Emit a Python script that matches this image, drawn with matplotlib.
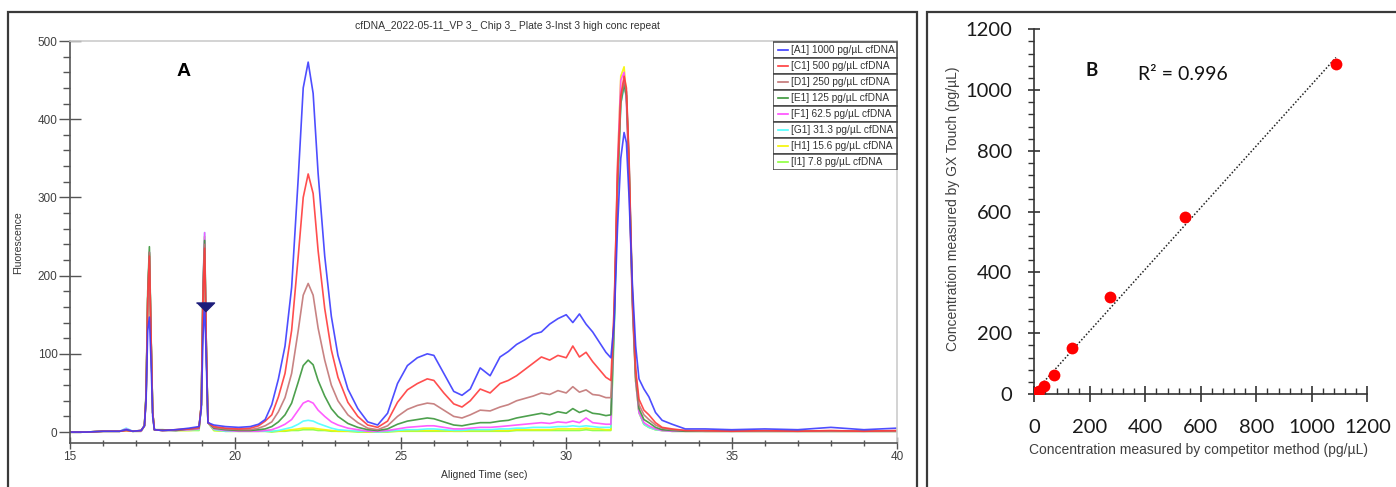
import numpy as np
import matplotlib
matplotlib.use("Agg")
import matplotlib.pyplot as plt
from matplotlib.patches import Rectangle
from matplotlib.ticker import MultipleLocator

W, H = 1396, 487

# ---- panel A: electropherogram traces ----
time_s = [15.0, 15.5, 16.0, 16.5, 16.7, 16.9, 17.15,
          17.25, 17.3, 17.35, 17.4, 17.45, 17.5, 17.55,
          17.8, 18.2, 18.6, 18.9,
          18.97, 19.02, 19.07, 19.12, 19.17,
          19.35, 19.7, 20.1, 20.45, 20.7, 20.9,
          21.1, 21.3, 21.5, 21.7, 21.9, 22.05, 22.2, 22.35, 22.5, 22.7, 22.9, 23.1, 23.4, 23.7, 24.0, 24.3,
          24.6, 24.9, 25.2, 25.5, 25.8, 26.0, 26.3, 26.6, 26.85, 27.1, 27.4, 27.7, 28.0, 28.25,
          28.5, 28.75, 29.0, 29.25, 29.5, 29.75, 30.0, 30.2, 30.4, 30.6, 30.8, 31.0, 31.2, 31.35,
          31.45, 31.55, 31.65, 31.75, 31.82, 31.9, 32.0, 32.1, 32.2,
          32.35, 32.5, 32.7, 32.9, 33.2, 33.6, 34.2, 35.0, 36.0, 37.0, 38.0, 39.0, 40.0]

a1 = [0, 0, 1, 1, 3, 1, 2,
      8, 40, 130, 147, 90, 20, 3,
      2, 3, 5, 7,
      30, 120, 165, 90, 12,
      9, 7, 6, 7, 10, 16,
      35, 68, 110, 185, 325, 440, 473, 433, 331, 225, 148, 98, 55, 30, 13, 9,
      24, 62, 85, 95, 100, 98, 75, 52, 47, 55, 82, 72, 96, 103,
      112, 118, 125, 128, 138, 145, 150, 140, 151, 138, 128, 115, 102, 95,
      140, 260, 350, 383, 370, 300, 190, 110, 68,
      55, 45, 25, 15, 10, 4, 4, 3, 4, 3, 6, 3, 5]
c1 = [0, 0, 1, 1, 2, 1, 2,
      8, 45, 170, 225, 120, 25, 3,
      2, 3, 4, 6,
      35, 170, 235, 110, 12,
      7, 5, 4, 5, 8, 14,
      22, 45, 75, 130, 225, 300, 330, 305, 232, 158, 105, 70, 38, 20, 9, 6,
      14, 38, 54, 62, 68, 66, 50, 36, 32, 40, 55, 50, 62, 66,
      72, 80, 88, 96, 92, 98, 95, 110, 96, 102, 90, 80, 70, 66,
      160, 330, 430, 455, 440, 350, 180, 80, 42,
      28, 22, 12, 6, 4, 2, 2, 1, 2, 1, 2, 1, 2]
d1 = [0, 0, 1, 1, 2, 1, 2,
      8, 45, 170, 230, 120, 25, 3,
      2, 3, 4, 5,
      35, 175, 240, 110, 12,
      6, 4, 3, 3, 5, 8,
      13, 26, 44, 75, 130, 175, 190, 175, 133, 92, 60, 40, 22, 12, 5, 3,
      8, 20, 29, 34, 37, 36, 28, 20, 18, 22, 28, 27, 32, 35,
      40, 43, 46, 50, 48, 53, 50, 58, 51, 54, 48, 47, 44, 44,
      150, 320, 425, 450, 435, 345, 175, 75, 35,
      22, 16, 9, 5, 3, 2, 1, 1, 1, 1, 1, 1, 1]
e1 = [0, 0, 1, 1, 3, 1, 2,
      8, 50, 180, 237, 125, 25, 3,
      3, 2, 4, 5,
      35, 180, 245, 110, 12,
      5, 3, 2, 2, 3, 4,
      7, 13, 22, 37, 64, 85, 92, 86, 66, 46, 30, 20, 11, 6, 3, 2,
      4, 10, 14, 16, 18, 17, 13, 9, 8, 10, 12, 12, 14, 15,
      18, 20, 22, 24, 22, 26, 24, 30, 25, 28, 24, 23, 21, 22,
      140, 310, 420, 445, 430, 340, 170, 70, 30,
      16, 12, 6, 3, 2, 1, 1, 1, 1, 1, 1, 1, 1]
f1 = [0, 0, 1, 1, 4, 1, 1,
      8, 45, 170, 230, 120, 25, 3,
      2, 2, 3, 4,
      35, 185, 255, 110, 12,
      4, 2, 1, 1, 1, 2,
      3, 6, 10, 16, 28, 37, 40, 37, 28, 20, 13, 9, 5, 3, 1, 1,
      2, 4, 6, 7, 8, 8, 6, 4, 4, 5, 6, 6, 7, 8,
      9, 10, 11, 12, 11, 13, 12, 14, 12, 18, 12, 11, 10, 10,
      150, 340, 450, 460, 420, 320, 160, 65, 25,
      12, 8, 4, 2, 1, 1, 1, 1, 1, 1, 1, 1, 1]
g1 = [0, 0, 1, 1, 5, 1, 1,
      8, 45, 170, 230, 120, 25, 3,
      2, 2, 3, 3,
      35, 185, 255, 110, 12,
      3, 1, 1, 1, 1, 1,
      1, 2, 4, 6, 10, 14, 15, 14, 11, 8, 5, 3, 2, 1, 1, 0,
      1, 2, 3, 3, 4, 4, 3, 2, 2, 3, 3, 3, 4, 4,
      5, 5, 6, 6, 6, 7, 7, 8, 7, 8, 7, 6, 6, 6,
      130, 300, 420, 440, 435, 345, 175, 70, 25,
      10, 6, 3, 2, 1, 1, 1, 1, 1, 1, 1, 1, 1]
h1 = [0, 0, 1, 1, 2, 1, 1,
      8, 45, 170, 228, 120, 25, 3,
      2, 2, 2, 3,
      35, 180, 250, 110, 12,
      2, 1, 1, 1, 1, 1,
      1, 1, 2, 3, 4, 5, 5, 5, 4, 3, 2, 1, 1, 1, 0, 0,
      1, 1, 2, 2, 2, 2, 2, 1, 1, 2, 2, 2, 2, 2,
      3, 3, 3, 3, 3, 4, 4, 4, 4, 5, 4, 4, 3, 3,
      145, 340, 455, 467, 430, 330, 165, 65, 25,
      10, 6, 3, 2, 1, 1, 1, 1, 1, 1, 1, 1, 1]
i1 = [0, 0, 1, 1, 2, 1, 1,
      8, 45, 170, 228, 120, 25, 3,
      2, 2, 2, 2,
      35, 180, 250, 110, 12,
      2, 1, 1, 1, 1, 1,
      0, 1, 1, 2, 2, 3, 3, 3, 2, 2, 1, 1, 1, 0, 0, 0,
      0, 1, 1, 1, 1, 1, 1, 1, 1, 1, 1, 1, 1, 1,
      2, 2, 2, 2, 2, 2, 2, 2, 2, 3, 2, 2, 2, 2,
      130, 320, 430, 440, 430, 335, 170, 65, 25,
      10, 6, 3, 2, 1, 1, 1, 1, 1, 1, 1, 1, 1]

trace_labels = ["[A1] 1000 pg/µL cfDNA", "[C1] 500 pg/µL cfDNA", "[D1] 250 pg/µL cfDNA",
                "[E1] 125 pg/µL cfDNA", "[F1] 62.5 pg/µL cfDNA", "[G1] 31.3 pg/µL cfDNA",
                "[H1] 15.6 pg/µL cfDNA", "[I1] 7.8 pg/µL cfDNA"]
traces = [a1, c1, d1, e1, f1, g1, h1, i1]
trace_colors = ["#3b3bff", "#ff3b3b", "#c27676", "#3a963a", "#ff4cff", "#4cffff", "#f5f500", "#8cff3c"]

marker_time, marker_level = 19.07, 160

# ---- panel B: concentration comparison ----
competitor = [8.5, 17, 35, 71, 137, 273, 543, 1087]
gx_touch = [5, 11, 25, 63, 153, 318, 583, 1085]


def fx(p):
    return p / W


def fy(p):
    return 1 - p / H


fig = plt.figure(figsize=(W / 100, H / 100), dpi=100)
fig.patch.set_facecolor("white")

# panel frames
fig.add_artist(Rectangle((fx(8), fy(500)), fx(917 - 8), (500 - 12) / H, transform=fig.transFigure,
                         fill=False, ec="#3a3a3a", lw=1.6))
fig.add_artist(Rectangle((fx(927), fy(500)), fx(600), (500 - 12) / H, transform=fig.transFigure,
                         fill=False, ec="#3a3a3a", lw=1.6))

# ---------------- panel A ----------------
axA = fig.add_axes([fx(70), fy(443), fx(897 - 70), (443 - 41) / H])
for vals, col in reversed(list(zip(traces, trace_colors))):
    axA.plot(time_s, vals, color=col, lw=1.2, alpha=0.9)
axA.plot([marker_time], [marker_level], ls="none", color="#1c1c7a",
         marker=[(-1, 0.5), (1, 0.5), (0, -0.5)], ms=13)
axA.set_xlim(15, 40)
axA.set_ylim(-14, 500)
axA.xaxis.set_major_locator(MultipleLocator(5))
axA.xaxis.set_minor_locator(MultipleLocator(1))
axA.yaxis.set_major_locator(MultipleLocator(100))
axA.yaxis.set_minor_locator(MultipleLocator(20))
axA.tick_params(axis="x", which="major", direction="inout", length=8, width=1, color="#555555",
                labelsize=8.5, labelcolor="#404040", pad=2)
axA.tick_params(axis="x", which="minor", direction="inout", length=5, width=1, color="#555555")
axA.tick_params(axis="y", which="major", direction="inout", length=16, width=1, color="#555555",
                labelsize=8.5, labelcolor="#404040", pad=1)
axA.tick_params(axis="y", which="minor", direction="out", length=5, width=1, color="#555555")
for s in ["left", "bottom"]:
    axA.spines[s].set_color("#555555")
    axA.spines[s].set_linewidth(1.2)
for s in ["top", "right"]:
    axA.spines[s].set_color("#cccccc")
    axA.spines[s].set_linewidth(1.2)
for lab in axA.get_xticklabels() + axA.get_yticklabels():
    lab.set_family("Liberation Sans")

fig.text(fx(507), fy(26), "cfDNA_2022-05-11_VP 3_ Chip 3_ Plate 3-Inst 3 high conc repeat",
         ha="center", va="center", fontsize=7.5, family="Liberation Sans", color="#333333")
fig.text(fx(18), fy(243), "Fluorescence", rotation=90, ha="center", va="center",
         fontsize=7.5, family="Liberation Sans", color="#333333")
fig.text(fx(484), fy(475), "Aligned Time (sec)", ha="center", va="center",
         fontsize=7.5, family="Liberation Sans", color="#333333")
fig.text(fx(184), fy(72), "A", ha="center", va="center", fontsize=14, fontweight="bold",
         family="Liberation Sans", color="black")

# legend drawn as a boxed table
axL = fig.add_axes([fx(773), fy(170), fx(125), 129 / H])
axL.set_xlim(0, 125)
axL.set_ylim(129, 0)
axL.axis("off")
row_h = 16
for k, (lab, col) in enumerate(zip(trace_labels, trace_colors)):
    y0 = 0.5 + k * row_h
    axL.add_patch(Rectangle((0.5, y0), 124, row_h, fill=True, fc="white", ec="#444444", lw=1.1))
    axL.plot([5, 15], [y0 + row_h / 2, y0 + row_h / 2], color=col, lw=1.2)
    axL.text(18.5, y0 + row_h / 2 + 0.3, lab, ha="left", va="center", fontsize=7.3,
             family="Liberation Sans", color="#333333")

# ---------------- panel B ----------------
axB = fig.add_axes([fx(1034.3), fy(394), fx(1367.3 - 1034.3), (394 - 29.3) / H])
slope, intercept = np.polyfit(competitor, gx_touch, 1)
xfit = np.array([0, max(competitor)])
axB.plot(xfit, slope * xfit + intercept, color="#222222", lw=1.1, ls=(0, (1, 1.3)), zorder=2)
axB.plot(competitor, gx_touch, "o", color="#ff0000", ms=8.5, mec="none", zorder=3)
axB.set_xlim(0, 1200)
axB.set_ylim(0, 1200)
axB.xaxis.set_major_locator(MultipleLocator(200))
axB.xaxis.set_minor_locator(MultipleLocator(40))
axB.yaxis.set_major_locator(MultipleLocator(200))
axB.yaxis.set_minor_locator(MultipleLocator(40))
axB.tick_params(axis="x", which="major", direction="inout", length=11.5, width=1.2, color="#333333",
                labelsize=14.5, pad=12, labelcolor="#1a1a1a")
axB.tick_params(axis="x", which="minor", direction="in", length=4.5, width=1, color="#333333")
axB.tick_params(axis="y", which="major", direction="inout", length=9, width=1.2, color="#333333",
                labelsize=14.5, pad=11.5, labelcolor="#1a1a1a")
axB.tick_params(axis="y", which="minor", direction="out", length=4.5, width=1, color="#333333")
for s in ["top", "right"]:
    axB.spines[s].set_visible(False)
for s in ["left", "bottom"]:
    axB.spines[s].set_color("#333333")
    axB.spines[s].set_linewidth(1.2)
for lab in axB.get_xticklabels() + axB.get_yticklabels():
    lab.set_family("Lato")

fig.text(fx(953), fy(209), "Concentration measured by GX Touch (pg/µL)", rotation=90,
         ha="center", va="center", fontsize=10, family="Liberation Sans", color="#404040")
fig.text(fx(1029), fy(450), "Concentration measured by competitor method (pg/µL)",
         ha="left", va="center", fontsize=10, family="Liberation Sans", color="#404040")
fig.text(fx(1092), fy(71), "B", ha="center", va="center", fontsize=13.5, fontweight="bold",
         family="Lato", color="#111111")
fig.text(fx(1138), fy(75), "R² = 0.996", ha="left", va="center", fontsize=14,
         family="Lato", color="#111111")

fig.savefig("out.png", dpi=100)
